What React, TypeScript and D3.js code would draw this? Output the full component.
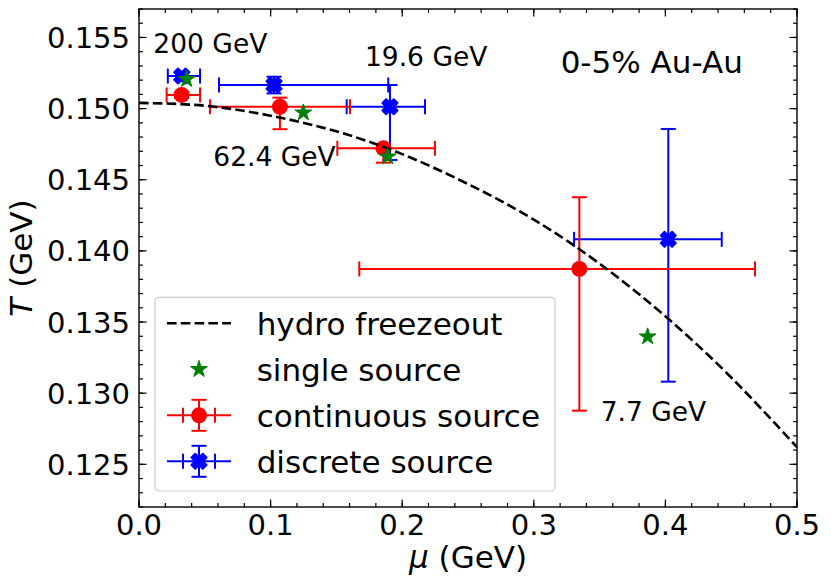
import React from 'react';
import * as d3 from 'd3';

const W = 831;
const H = 588;

// hydro freeze-out curve
const hydroMu = [0, 0.05, 0.1, 0.15, 0.2, 0.25, 0.3, 0.35, 0.4, 0.45, 0.5];
const hydroT = [0.1504, 0.1502, 0.1495, 0.1484, 0.1468, 0.1447, 0.1422, 0.1391, 0.1354, 0.1311, 0.1262];

// single source (green stars)
const singleMu = [0.0362, 0.1249, 0.189, 0.3865];
const singleT = [0.15206, 0.14971, 0.14662, 0.13397];

// continuous source (red)
const contMu = [0.0324, 0.1071, 0.1857, 0.3346];
const contMuLo = [0.021, 0.054, 0.1507, 0.1674];
const contMuHi = [0.0464, 0.1603, 0.2249, 0.4681];
const contT = [0.15096, 0.15013, 0.14721, 0.13873];
const contTLo = [0.15076, 0.14855, 0.1462, 0.12877];
const contTHi = [0.15116, 0.15077, 0.1475, 0.14377];

// discrete source (blue)
const discMu = [0.0325, 0.1026, 0.1907, 0.4022];
const discMuLo = [0.0219, 0.0608, 0.1578, 0.3306];
const discMuHi = [0.0464, 0.1894, 0.2173, 0.4428];
const discT = [0.15229, 0.15166, 0.15013, 0.14081];
const discTLo = [0.15205, 0.15107, 0.14639, 0.13081];
const discTHi = [0.15253, 0.15224, 0.15166, 0.14857];

// annotations
const annText = ['200 GeV', '19.6 GeV', '62.4 GeV', '7.7 GeV'];
const annMu = [0.0109, 0.1717, 0.0565, 0.3508];
const annT = [0.15393, 0.15299, 0.14599, 0.12804];
const title = '0-5% Au-Au';
const titleMu = 0.3204;
const titleT = 0.15248;

const xTicks = [0, 0.1, 0.2, 0.3, 0.4, 0.5];
const yTicks = [0.125, 0.13, 0.135, 0.14, 0.145, 0.15, 0.155];

const legendLabels = ['hydro freezeout', 'single source', 'continuous source', 'discrete source'];

const FONT = 'DejaVu Sans, sans-serif';
const RED = '#ff0000';
const BLUE = '#0000ff';
const GREEN = '#008000';

const L = 139, R = 797, T = 9, B = 507;
const x = d3.scaleLinear().domain([0, 0.5]).range([L, R]);
const y = d3.scaleLinear().domain([0.122, 0.157]).range([B, T]);

const CAP = 7.5;

function starPath(r: number) {
  const pts: [number, number][] = [];
  const ri = r * 0.381966;
  for (let i = 0; i < 10; i++) {
    const a = (Math.PI / 5) * i - Math.PI / 2;
    const rr = i % 2 === 0 ? r : ri;
    pts.push([rr * Math.cos(a), rr * Math.sin(a)]);
  }
  return 'M' + pts.map((p) => p[0].toFixed(2) + ',' + p[1].toFixed(2)).join('L') + 'Z';
}

function xPath(ms: number) {
  const base: [number, number][] = [
    [-1, -3], [1, -3], [1, -1], [3, -1], [3, 1], [1, 1],
    [1, 3], [-1, 3], [-1, 1], [-3, 1], [-3, -1], [-1, -1],
  ];
  const c = Math.cos(Math.PI / 4);
  const pts = base.map(([a, b]) => {
    const px = (a / 6) * ms;
    const py = (b / 6) * ms;
    return [px * c - py * c, px * c + py * c];
  });
  return 'M' + pts.map((p) => p[0].toFixed(2) + ',' + p[1].toFixed(2)).join('L') + 'Z';
}

const STAR = starPath(8.8);
const XM = xPath(16);

function ErrSeries(props: {
  mu: number[]; muLo: number[]; muHi: number[];
  t: number[]; tLo: number[]; tHi: number[];
  color: string; marker: 'circle' | 'x';
}) {
  const { mu, muLo, muHi, t, tLo, tHi, color, marker } = props;
  return (
    <g>
      {mu.map((m, i) => {
        const cx = x(m), cy = y(t[i]);
        const x0 = x(muLo[i]), x1 = x(muHi[i]);
        const y0 = y(tLo[i]), y1 = y(tHi[i]);
        return (
          <g key={i} stroke={color} strokeWidth={2}>
            <line x1={x0} x2={x1} y1={cy} y2={cy} />
            <line x1={cx} x2={cx} y1={y0} y2={y1} />
            <line x1={x0} x2={x0} y1={cy - CAP} y2={cy + CAP} />
            <line x1={x1} x2={x1} y1={cy - CAP} y2={cy + CAP} />
            <line x1={cx - CAP} x2={cx + CAP} y1={y0} y2={y0} />
            <line x1={cx - CAP} x2={cx + CAP} y1={y1} y2={y1} />
          </g>
        );
      })}
      {mu.map((m, i) =>
        marker === 'circle' ? (
          <circle key={'m' + i} cx={x(m)} cy={y(t[i])} r={8} fill={color} />
        ) : (
          <path key={'m' + i} d={XM} transform={`translate(${x(m)},${y(t[i])})`} fill={color} stroke={color} strokeWidth={2} strokeLinejoin="round" />
        )
      )}
    </g>
  );
}

function LegendErr(props: { cx: number; cy: number; color: string; marker: 'circle' | 'x' }) {
  const { cx, cy, color, marker } = props;
  return (
    <g stroke={color} strokeWidth={2}>
      <line x1={cx - 32} x2={cx + 32} y1={cy} y2={cy} />
      <line x1={cx - 16} x2={cx - 16} y1={cy - CAP} y2={cy + CAP} />
      <line x1={cx + 16} x2={cx + 16} y1={cy - CAP} y2={cy + CAP} />
      <line x1={cx} x2={cx} y1={cy - 15.5} y2={cy + 15.5} />
      <line x1={cx - CAP} x2={cx + CAP} y1={cy - 15.5} y2={cy - 15.5} />
      <line x1={cx - CAP} x2={cx + CAP} y1={cy + 15.5} y2={cy + 15.5} />
      {marker === 'circle' ? (
        <circle cx={cx} cy={cy} r={8} fill={color} stroke="none" />
      ) : (
        <path d={XM} transform={`translate(${cx},${cy})`} fill={color} strokeWidth={2} strokeLinejoin="round" />
      )}
    </g>
  );
}

export default function App() {
  const hydroData = hydroMu.map((m, i) => [m, hydroT[i]] as [number, number]);
  const line = d3.line<[number, number]>().x((d) => x(d[0])).y((d) => y(d[1])).curve(d3.curveNatural);

  const xMinor = d3.range(0, 0.5001, 0.02);
  const yMinor = d3.range(0.122, 0.15701, 0.001);

  const legX = 199;
  const legTextX = 256.7;
  const legBase = [335, 381, 427, 473];

  return (
    <svg width={W} height={H} style={{ position: 'absolute', left: 0, top: 0, background: '#fff' }} fontFamily={FONT}>
      <rect x={0} y={0} width={W} height={H} fill="#fff" />
      <defs>
        <clipPath id="plot">
          <rect x={L} y={T} width={R - L} height={B - T} />
        </clipPath>
      </defs>

      <g clipPath="url(#plot)">
        <ErrSeries mu={discMu} muLo={discMuLo} muHi={discMuHi} t={discT} tLo={discTLo} tHi={discTHi} color={BLUE} marker="x" />
        <ErrSeries mu={contMu} muLo={contMuLo} muHi={contMuHi} t={contT} tLo={contTLo} tHi={contTHi} color={RED} marker="circle" />
        <path d={line(hydroData) || ''} fill="none" stroke="#000" strokeWidth={2.6} strokeDasharray="9.6,4.2" />
        {singleMu.map((m, i) => (
          <path key={i} d={STAR} transform={`translate(${x(m)},${y(singleT[i])})`} fill={GREEN} stroke={GREEN} strokeWidth={1} />
        ))}
      </g>

      {/* annotations */}
      {annText.map((t, i) => (
        <text key={t} x={x(annMu[i])} y={y(annT[i])} fontSize={26.5} fill="#000">{t}</text>
      ))}
      <text x={x(titleMu)} y={y(titleT)} fontSize={31} fill="#000">{title}</text>

      {/* ticks */}
      <g stroke="#000" strokeWidth={1.2}>
        {xMinor.map((v, i) => (
          <g key={'xm' + i}>
            <line x1={x(v)} x2={x(v)} y1={B} y2={B - 4} />
            <line x1={x(v)} x2={x(v)} y1={T} y2={T + 4} />
          </g>
        ))}
        {yMinor.map((v, i) => (
          <g key={'ym' + i}>
            <line x1={L} x2={L + 4} y1={y(v)} y2={y(v)} />
            <line x1={R} x2={R - 4} y1={y(v)} y2={y(v)} />
          </g>
        ))}
        {xTicks.map((v, i) => (
          <g key={'xM' + i}>
            <line x1={x(v)} x2={x(v)} y1={B} y2={B - 7.5} />
            <line x1={x(v)} x2={x(v)} y1={T} y2={T + 7.5} />
          </g>
        ))}
        {yTicks.map((v, i) => (
          <g key={'yM' + i}>
            <line x1={L} x2={L + 7.5} y1={y(v)} y2={y(v)} />
            <line x1={R} x2={R - 7.5} y1={y(v)} y2={y(v)} />
          </g>
        ))}
      </g>
      <rect x={L} y={T} width={R - L} height={B - T} fill="none" stroke="#000" strokeWidth={1.4} />

      {xTicks.map((v, i) => (
        <text key={'xl' + i} x={x(v)} y={535} fontSize={29} textAnchor="middle" fill="#000">{v.toFixed(1)}</text>
      ))}
      {yTicks.map((v, i) => (
        <text key={'yl' + i} x={130} y={y(v) + 10.5} fontSize={29} textAnchor="end" fill="#000">{v.toFixed(3)}</text>
      ))}

      <text x={(L + R) / 2} y={568} fontSize={31} textAnchor="middle" fill="#000">
        <tspan fontStyle="italic">μ</tspan> (GeV)
      </text>
      <text transform={`translate(32,${(T + B) / 2}) rotate(-90)`} fontSize={31} textAnchor="middle" fill="#000">
        <tspan fontStyle="italic">T</tspan> (GeV)
      </text>

      {/* legend */}
      <rect x={155} y={297.3} width={400} height={193.7} rx={4} fill="#fff" fillOpacity={0.8} stroke="#cccccc" strokeWidth={1.2} />
      <line x1={legX - 32} x2={legX + 32} y1={legBase[0] - 11.7} y2={legBase[0] - 11.7} stroke="#000" strokeWidth={2.6} strokeDasharray="9.6,4.2" />
      <path d={STAR} transform={`translate(${legX},${legBase[1] - 11.7})`} fill={GREEN} stroke={GREEN} strokeWidth={1} />
      <LegendErr cx={legX} cy={legBase[2] - 11.7} color={RED} marker="circle" />
      <LegendErr cx={legX} cy={legBase[3] - 11.7} color={BLUE} marker="x" />
      {legendLabels.map((t, i) => (
        <text key={t} x={legTextX} y={legBase[i]} fontSize={31} fill="#000">{t}</text>
      ))}
    </svg>
  );
}
